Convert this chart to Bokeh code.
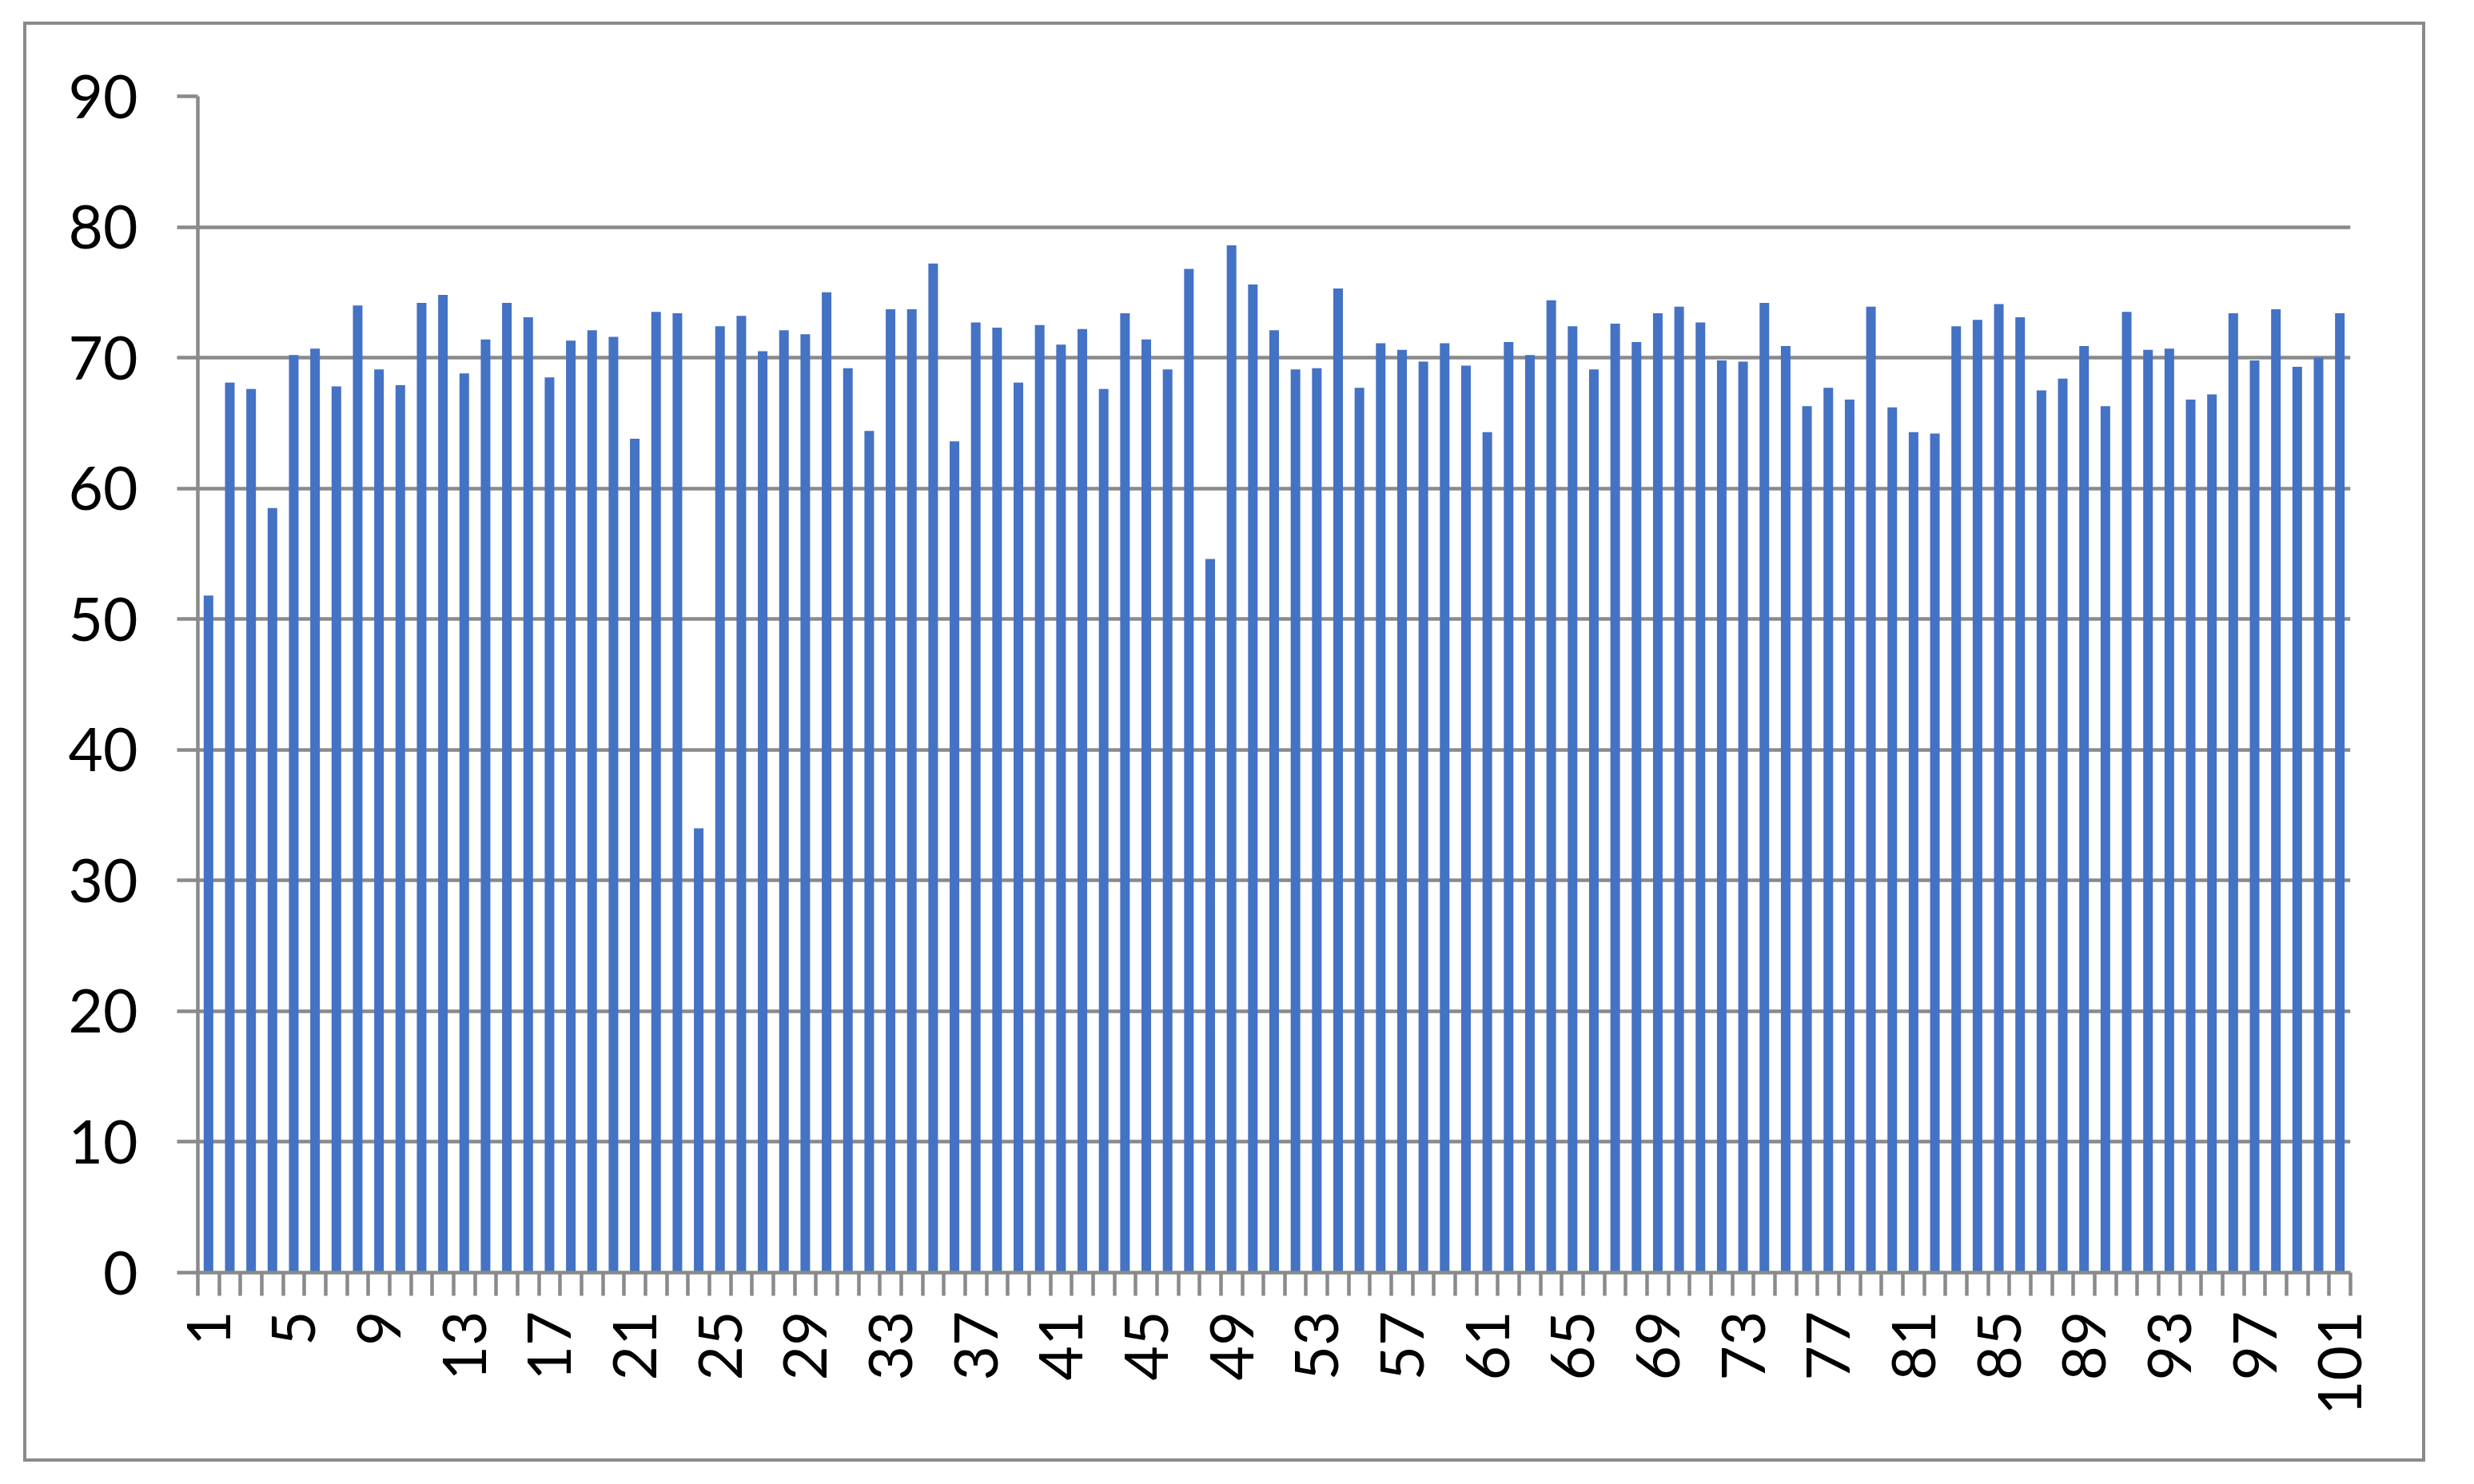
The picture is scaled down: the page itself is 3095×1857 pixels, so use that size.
import math
from bokeh.plotting import figure
from bokeh.models import FixedTicker
from bokeh.embed import file_html
from bokeh.resources import INLINE

# ---- data ----
categories = list(range(1, 102))
values = [
    51.8, 68.1, 67.6, 58.5, 70.2, 70.7, 67.8, 74.0, 69.1, 67.9,
    74.2, 74.8, 68.8, 71.4, 74.2, 73.1, 68.5, 71.3, 72.1, 71.6,
    63.8, 73.5, 73.4, 34.0, 72.4, 73.2, 70.5, 72.1, 71.8, 75.0,
    69.2, 64.4, 73.7, 73.7, 77.2, 63.6, 72.7, 72.3, 68.1, 72.5,
    71.0, 72.2, 67.6, 73.4, 71.4, 69.1, 76.8, 54.6, 78.6, 75.6,
    72.1, 69.1, 69.2, 75.3, 67.7, 71.1, 70.6, 69.7, 71.1, 69.4,
    64.3, 71.2, 70.2, 74.4, 72.4, 69.1, 72.6, 71.2, 73.4, 73.9,
    72.7, 69.8, 69.7, 74.2, 70.9, 66.3, 67.7, 66.8, 73.9, 66.2,
    64.3, 64.2, 72.4, 72.9, 74.1, 73.1, 67.5, 68.4, 70.9, 66.3,
    73.5, 70.6, 70.7, 66.8, 67.2, 73.4, 69.8, 73.7, 69.3, 70.0, 73.4,
]
x_label_positions = [1, 5, 9, 13, 17, 21, 25, 29, 33, 37, 41, 45, 49, 53, 57,
                     61, 65, 69, 73, 77, 81, 85, 89, 93, 97, 101]
y_ticks = [0, 10, 20, 30, 40, 50, 60, 70, 80, 90]

GRAY = "#8a8a8a"
BLUE = "#4472C4"
FONT = "Lato"
FSIZE = "75px"

p = figure(width=3005, height=1802,
           x_range=(0.5, 101.5), y_range=(0, 90),
           output_backend="svg", toolbar_location=None,
           min_border_left=214, min_border_right=98,
           min_border_top=89, min_border_bottom=241,
           background_fill_color="white", border_fill_color="white",
           outline_line_color=None,
           styles={"border": "4px solid #8a8a8a",
                   "margin-left": "29px", "margin-top": "27px"})

p.vbar(x=categories, top=values, width=0.45, color=BLUE, line_color=None)

# x axis
xa = p.xaxis[0]
boundaries = [c - 0.5 for c in categories] + [categories[-1] + 0.5]
xa.ticker = FixedTicker(ticks=x_label_positions, minor_ticks=boundaries)
xa.major_label_overrides = {c: str(c) for c in x_label_positions}
xa.major_tick_out = 0
xa.major_tick_in = 0
xa.minor_tick_out = 29
xa.minor_tick_in = 0
xa.minor_tick_line_color = GRAY
xa.minor_tick_line_width = 4.5
xa.axis_line_color = GRAY
xa.axis_line_width = 4.5
xa.major_label_orientation = math.pi / 2
xa.major_label_standoff = 19
xa.major_label_text_font = FONT
xa.major_label_text_font_size = FSIZE
xa.major_label_text_color = "black"

# y axis
ya = p.yaxis[0]
ya.ticker = FixedTicker(ticks=y_ticks)
ya.major_tick_out = 26
ya.major_tick_in = 0
ya.major_tick_line_color = GRAY
ya.major_tick_line_width = 4.5
ya.minor_tick_line_color = None
ya.axis_line_color = GRAY
ya.axis_line_width = 4.5
ya.major_label_standoff = 49
ya.major_label_text_font = FONT
ya.major_label_text_font_size = FSIZE
ya.major_label_text_color = "black"

# grid
p.xgrid.visible = False
p.ygrid.ticker = FixedTicker(ticks=y_ticks)
p.ygrid.grid_line_color = GRAY
p.ygrid.grid_line_width = 4.5

open("out.html", "w").write(file_html(p, INLINE))
